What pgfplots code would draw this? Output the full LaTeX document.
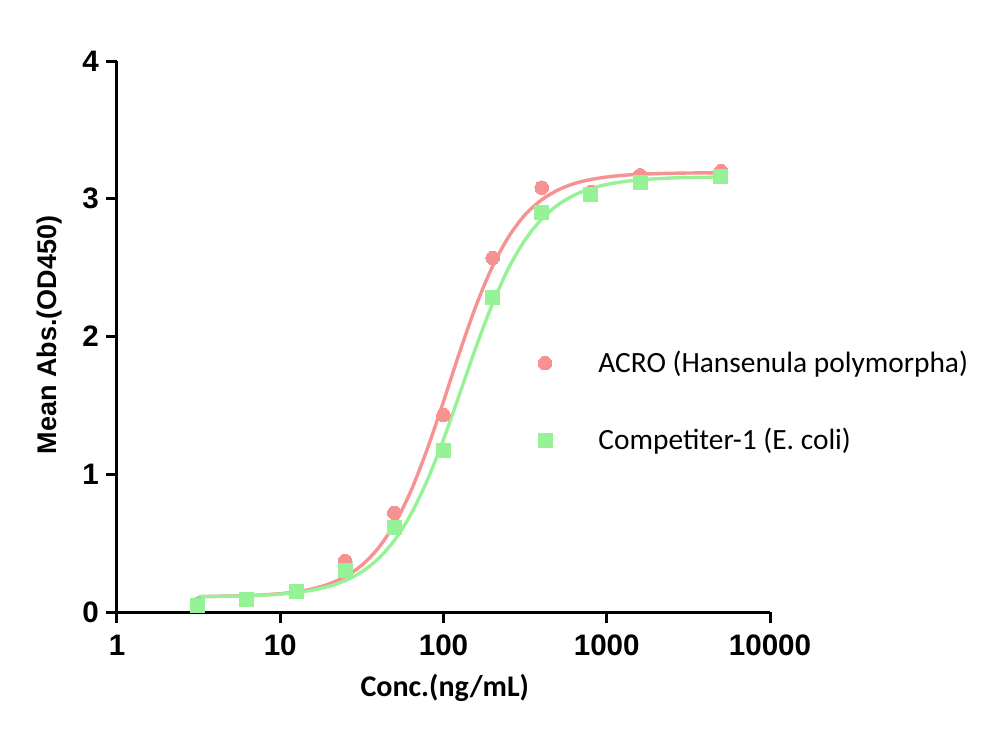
\documentclass[border=0pt]{standalone}
\usepackage{pgfplots}
\pgfplotsset{compat=1.18}
\usepackage{fontspec}
\setmainfont{Carlito}
\newfontfamily\arialf{Liberation Sans}

\definecolor{acro}{RGB}{247,146,146}
\definecolor{comp}{RGB}{150,242,150}

\begin{document}
\begin{tikzpicture}
\path[use as bounding box] (-58.5pt,-64.5pt) rectangle (441.5pt,306pt);
\begin{axis}[
	scale only axis,
	width=326.5pt, height=275.5pt,
	xmode=log,
	xmin=1, xmax=10000,
	ymin=0, ymax=4,
	axis x line*=bottom,
	axis y line*=left,
	axis line style={line width=1.5pt, black, -},
	every tick/.style={line width=1.5pt, black},
	tick align=outside,
	major tick length=5.5pt,
	xminorticks=false,
	xtick={1,10,100,1000,10000},
	xticklabels={1,10,100,1000,10000},
	ytick={0,1,2,3,4},
	yticklabels={0,1,2,3,4},
	x tick label style={font=\arialf\bfseries\fontsize{14.8}{17}\selectfont, yshift=-2.5pt},
	y tick label style={font=\arialf\bfseries\fontsize{14.8}{17}\selectfont},
	xlabel={Conc.(ng/mL)},
	ylabel={Mean Abs.(OD450)},
	xlabel style={font=\bfseries\fontsize{15}{18}\selectfont, at={(axis description cs:0.502,-0.138)}, anchor=center},
	ylabel style={font=\arialf\bfseries\fontsize{13.5}{16}\selectfont, at={(axis description cs:-0.103,0.503)}, anchor=center, rotate=0},
	clip=false,
	legend cell align=left,
	legend style={draw=none, fill=none, inner sep=0pt,
		font=\fontsize{14.7}{17}\selectfont,
		at={(axis description cs:0.642,0.482)}, anchor=north west,
		row sep=22.5pt},
	legend image code/.code={\path (-4pt,0pt) (24.5pt,0pt); \draw[#1] plot coordinates {(0pt,0pt)};},
]
% fitted curves
\addplot[acro, line width=1.7pt, smooth, forget plot] coordinates {
(3.162,0.112) (3.981,0.114) (5.012,0.116) (6.310,0.119) (7.943,0.125)
(10,0.133) (12.59,0.147) (15.85,0.169) (19.95,0.204) (25.12,0.258)
(31.62,0.340) (39.81,0.463) (50.12,0.639) (63.10,0.878) (79.43,1.181)
(100,1.529) (125.9,1.890) (158.5,2.226) (199.5,2.508) (251.2,2.726)
(316.2,2.884) (398.1,2.991) (501.2,3.063) (631.0,3.110) (794.3,3.139)
(1000,3.158) (1259,3.170) (1585,3.178) (1995,3.182) (2512,3.185)
(3162,3.187) (3981,3.188) (5012,3.189)};
\addplot[comp, line width=1.7pt, smooth, forget plot] coordinates {
(3.162,0.112) (3.981,0.113) (5.012,0.115) (6.310,0.118) (7.943,0.123)
(10,0.130) (12.59,0.142) (15.85,0.160) (19.95,0.187) (25.12,0.229)
(31.62,0.292) (39.81,0.386) (50.12,0.521) (63.10,0.709) (79.43,0.954)
(100,1.253) (125.9,1.587) (158.5,1.926) (199.5,2.237) (251.2,2.499)
(316.2,2.702) (398.1,2.851) (501.2,2.955) (631.0,3.026) (794.3,3.073)
(1000,3.104) (1259,3.124) (1585,3.137) (1995,3.145) (2512,3.151)
(3162,3.154) (3981,3.156) (5012,3.158)};
% measured points
\addplot[only marks, color=acro, mark=*, mark size=3.4pt, mark options={draw=acro, fill=acro, line width=0pt}] coordinates {
(3.125,0.06) (6.25,0.09) (12.5,0.15) (25,0.37) (50,0.72) (100,1.43)
(200,2.57) (400,3.08) (800,3.05) (1600,3.17) (5000,3.20)};
\addplot[only marks, color=comp, mark=square*, mark size=3.5pt, mark options={draw=comp, fill=comp, line width=0pt}] coordinates {
(3.125,0.05) (6.25,0.09) (12.5,0.15) (25,0.30) (50,0.61) (100,1.17)
(200,2.28) (400,2.90) (800,3.03) (1600,3.12) (5000,3.16)};
\legend{ACRO (Hansenula polymorpha), Competiter-1 (E. coli)}
\end{axis}
\end{tikzpicture}
\end{document}
